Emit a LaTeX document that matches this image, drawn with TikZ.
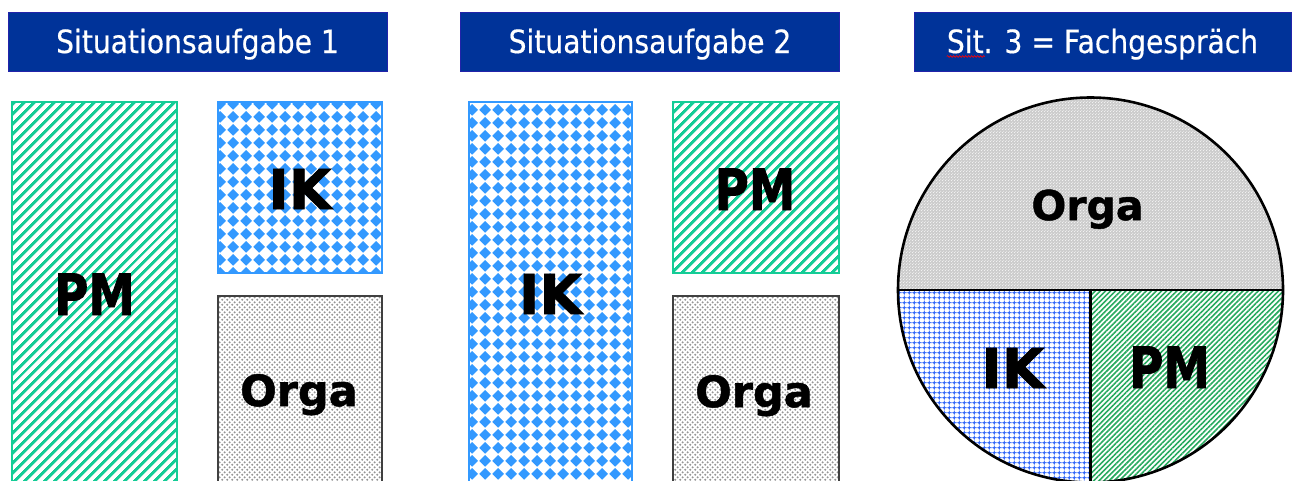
\documentclass[tikz,border=0pt]{standalone}
\usepackage{fontspec}
\usetikzlibrary{patterns.meta,decorations.pathmorphing}

\newfontfamily\titlefont[FakeStretch=0.88,FakeBold=0.4]{DejaVu Sans}
\newfontfamily\labelfont[FakeBold=1.2]{DejaVu Sans}
\newfontfamily\narrowlabelfont[FakeStretch=0.82,FakeBold=1.2]{DejaVu Sans}

\definecolor{titleblue}{RGB}{0,51,153}
\definecolor{titleedge}{RGB}{35,35,170}
\definecolor{pmgreen}{RGB}{20,204,150}
\definecolor{ikblue}{RGB}{51,153,255}
\definecolor{orgadot}{RGB}{150,150,150}
\definecolor{orgaedge}{RGB}{64,64,64}
\definecolor{circgreen}{RGB}{40,170,95}
\definecolor{circblue}{RGB}{45,100,250}
\definecolor{circgrey}{RGB}{205,205,205}

% rotated checkerboard: blue diamonds on white
\pgfdeclarepattern{
  name=Diamonds, type=uncolored,
  bottom left={\pgfpoint{0pt}{0pt}},
  top right={\pgfpoint{12.6pt}{12.6pt}},
  tile size={\pgfpoint{12.6pt}{12.6pt}},
  code={
    \pgfpathmoveto{\pgfpoint{6.3pt}{0.3pt}}
    \pgfpathlineto{\pgfpoint{12.3pt}{6.3pt}}
    \pgfpathlineto{\pgfpoint{6.3pt}{12.3pt}}
    \pgfpathlineto{\pgfpoint{0.3pt}{6.3pt}}
    \pgfpathclose
    \pgfusepath{fill}
  }
}

% staggered dots
\pgfdeclarepattern{
  name=Speckle, type=uncolored,
  bottom left={\pgfpoint{0pt}{0pt}},
  top right={\pgfpoint{5.4pt}{5.4pt}},
  tile size={\pgfpoint{5.4pt}{5.4pt}},
  code={
    \pgfpathcircle{\pgfpoint{1.35pt}{1.35pt}}{1.25pt}
    \pgfpathcircle{\pgfpoint{4.05pt}{4.05pt}}{1.25pt}
    \pgfusepath{fill}
  }
}

% very fine staggered dots
\pgfdeclarepattern{
  name=FineSpeckle, type=uncolored,
  bottom left={\pgfpoint{0pt}{0pt}},
  top right={\pgfpoint{3pt}{3pt}},
  tile size={\pgfpoint{3pt}{3pt}},
  code={
    \pgfpathcircle{\pgfpoint{0.75pt}{0.75pt}}{0.55pt}
    \pgfpathcircle{\pgfpoint{2.25pt}{2.25pt}}{0.55pt}
    \pgfusepath{fill}
  }
}

% fine blue grid with dots at the crossings
\pgfdeclarepattern{
  name=FineGrid, type=colored,
  bottom left={\pgfpoint{0pt}{0pt}},
  top right={\pgfpoint{4.8pt}{4.8pt}},
  tile size={\pgfpoint{4.8pt}{4.8pt}},
  code={
    \pgfsetfillcolor{circblue!55}
    \pgfpathrectangle{\pgfpoint{0pt}{1.9pt}}{\pgfpoint{4.8pt}{1.0pt}}
    \pgfpathrectangle{\pgfpoint{1.9pt}{0pt}}{\pgfpoint{1.0pt}{4.8pt}}
    \pgfusepath{fill}
    \pgfsetfillcolor{circblue}
    \pgfpathcircle{\pgfpoint{2.4pt}{2.4pt}}{1.55pt}
    \pgfusepath{fill}
  }
}

\tikzset{
  titlebox/.style={fill=titleblue, draw=titleedge, line width=1pt,
    minimum width=379pt, minimum height=59pt, inner sep=0pt},
  titletext/.style={text=white, inner sep=0pt, anchor=base,
    font=\titlefont\fontsize{32}{38}\selectfont},
  pmfill/.style={pattern={Lines[angle=45,distance=6.9pt,line width=3.2pt]},
    pattern color=pmgreen},
  pmbox/.style={pmfill, draw=pmgreen, line width=1.5pt},
  ikbox/.style={pattern=Diamonds, pattern color=ikblue, draw=ikblue, line width=1.5pt},
  orgabox/.style={pattern=Speckle, pattern color=orgadot, draw=orgaedge, line width=1.5pt},
  bigtag/.style={inner sep=0pt, anchor=base, text=black},
  pmtag/.style={bigtag, font=\narrowlabelfont\bfseries\fontsize{57}{60}\selectfont},
  iktag/.style={bigtag, font=\labelfont\bfseries\fontsize{55}{60}\selectfont},
  orgatag/.style={bigtag, font=\labelfont\bfseries\fontsize{43}{50}\selectfont},
  orgatagsmall/.style={bigtag, font=\labelfont\bfseries\fontsize{41}{48}\selectfont},
  rim/.style={draw=black, line width=2.6pt},
}

\begin{document}
\begin{tikzpicture}[x=1pt,y=1pt]
\useasboundingbox (0,-480) rectangle (1296,0);

% headings
\node[titlebox] (head1) at (197.5,-41.5) {};
\node[titletext] (t1) at (197.5,-53) {Situationsaufgabe 1};
\node[titlebox] (head2) at (650,-41.5) {};
\node[titletext] (t2) at (650,-53) {Situationsaufgabe 2};
\node[titlebox, minimum width=377pt] (head3) at (1102.5,-41.5) {};
\node[titletext] (t3) at (1102.5,-53) {Sit. 3 = Fachgespräch};
\draw[red, line width=0.6pt, decorate,
      decoration={snake, amplitude=0.9pt, segment length=3pt}]
  ([yshift=-3.5pt]t3.base west) -- ++(38,0);

% first task
\draw[pmbox]   (12,-102)  rectangle (177,-492);
\draw[ikbox]   (218,-102) rectangle (382,-273);
\draw[orgabox] (218,-296) rectangle (382,-492);
\node[pmtag]   (pm1)   at (94.5,-315) {PM};
\node[iktag]   (ik1)   at (300,-209)  {IK};
\node[orgatag] (orga1) at (299,-406)  {Orga};

% second task
\draw[ikbox]   (469,-102) rectangle (632,-492);
\draw[pmbox]   (673,-102) rectangle (839,-273);
\draw[orgabox] (673,-296) rectangle (839,-492);
\node[iktag]   (ik2)   at (550.5,-314) {IK};
\node[pmtag]   (pm2)   at (755,-210)   {PM};
\node[orgatag] (orga2) at (754,-407)   {Orga};

% third task: divided circle
\coordinate (C) at (1090.5,-290);
\fill[circgrey] (C) ++(-192.5,0) arc[start angle=180, end angle=0, radius=192.5] -- cycle;
\path[pattern=FineSpeckle, pattern color=white]
  (C) ++(-192.5,0) arc[start angle=180, end angle=0, radius=192.5] -- cycle;
\path[pattern=FineGrid]
  (C) -- ++(-192.5,0) arc[start angle=180, end angle=270, radius=192.5] -- cycle;
\path[pattern={Lines[angle=45,distance=3.6pt,line width=1.6pt]}, pattern color=circgreen]
  (C) -- ++(0,-192.5) arc[start angle=270, end angle=360, radius=192.5] -- cycle;
\draw[rim] (C) circle[radius=192.5];
\draw[rim] (C) ++(-192.5,0) -- ++(385,0);
\draw[rim] (C) -- ++(0,-192.5);
\node[orgatagsmall] (orga3) at (1087.5,-220) {Orga};
\node[iktag]        (ik3)   at (1013,-388)   {IK};
\node[pmtag]        (pm3)   at (1169.5,-388) {PM};
\end{tikzpicture}
\end{document}
